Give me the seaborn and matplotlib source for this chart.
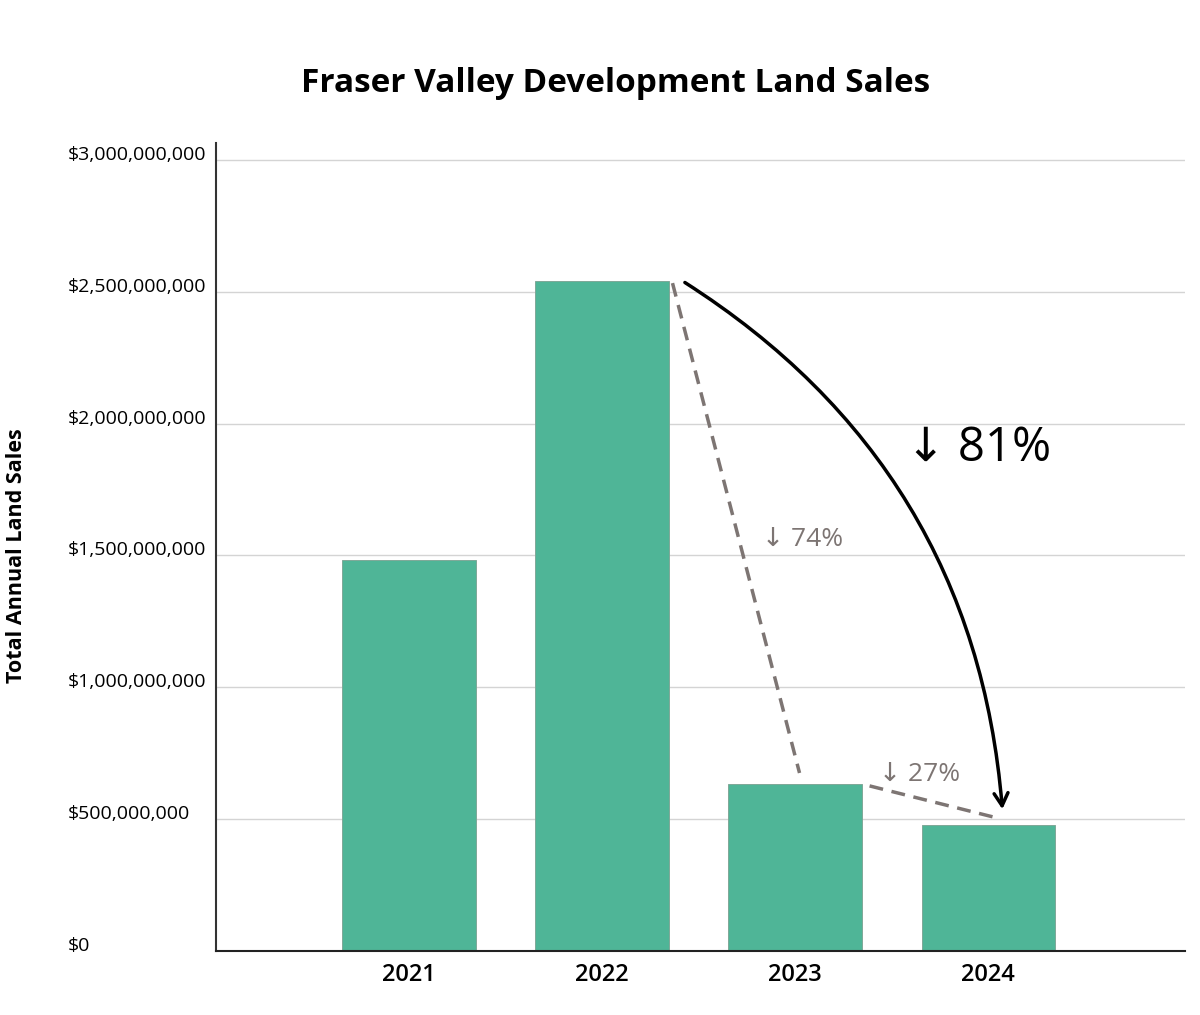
import matplotlib
matplotlib.use('Agg')
import matplotlib.pyplot as plt
import matplotlib.transforms as mtransforms
import seaborn as sns
import pandas as pd

years = ['2021', '2022', '2023', '2024']
sales = [1.483e9, 2.541e9, 0.633e9, 0.478e9]
ytick_vals = [0, 0.5e9, 1.0e9, 1.5e9, 2.0e9, 2.5e9, 3.0e9]
ytick_labels = ['$0', '$500,000,000', '$1,000,000,000', '$1,500,000,000',
                '$2,000,000,000', '$2,500,000,000', '$3,000,000,000']

sns.set_style('white')
plt.rcParams['font.family'] = ['Open Sans', 'DejaVu Sans']
plt.rcParams['text.color'] = 'black'
plt.rcParams['xtick.color'] = 'black'
plt.rcParams['ytick.color'] = 'black'

df = pd.DataFrame({'Year': years, 'Sales': sales})

fig = plt.figure(figsize=(12, 10.15), dpi=100)
ax = fig.add_axes([0.18, 0.0631, 0.8075, 0.7959])

sns.barplot(data=df, x='Year', y='Sales', color='#4fb597', saturation=1,
            width=0.69, edgecolor='#7fa898', linewidth=0.7, ax=ax)

ax.set_xlim(-1, 4.02)
ax.set_ylim(0, 3.064e9)
ax.set_yticks(ytick_vals)
ax.set_yticklabels(ytick_labels, fontsize=14, ha='left')
ax.yaxis.set_tick_params(length=0, pad=106.6)
offset = mtransforms.ScaledTranslation(0, 0.07, fig.dpi_scale_trans)
for lab in ax.get_yticklabels():
    lab.set_transform(lab.get_transform() + offset)
ax.tick_params(axis='x', length=0, pad=9, labelsize=17)
for lab in ax.get_xticklabels():
    lab.set_fontweight('semibold')

ax.grid(axis='y', color='#d4d4d4', linewidth=1)
ax.set_axisbelow(True)
sns.despine(ax=ax, top=True, right=True)
ax.spines['left'].set_color('#333333')
ax.spines['left'].set_linewidth(1.5)
ax.spines['bottom'].set_color('#222222')
ax.spines['bottom'].set_linewidth(1.5)
ax.set_xlabel('')
ax.set_ylabel('')

fig.text(0.513, 0.918, 'Fraser Valley Development Land Sales', ha='center',
         va='center', fontsize=24, fontweight='bold')
fig.text(0.014, 0.453, 'Total Annual Land Sales', rotation=90, ha='center',
         va='center', fontsize=15.5, fontweight='bold')

grey = '#7d7573'
ax.plot([1.365, 2.023], [2.533e9, 0.675e9], ls=(0, (4, 2.5)), color=grey, lw=2.5)
ax.plot([2.386, 3.049], [0.626e9, 0.504e9], ls=(0, (4, 2.5)), color=grey, lw=2.5)
ax.text(2.039, 1.562e9, '↓ 74%', color=grey, fontsize=19, ha='center', va='center')
ax.text(2.645, 0.671e9, '↓ 27%', color=grey, fontsize=19, ha='center', va='center')

ax.annotate('', xy=(3.075, 0.527e9), xytext=(1.417, 2.541e9),
            arrowprops=dict(arrowstyle='->,head_length=0.9,head_width=0.5',
                            color='black', lw=2.5,
                            connectionstyle='arc3,rad=-0.25'))
ax.text(2.951, 1.907e9, '↓ 81%', color='black', fontsize=34, ha='center', va='center')

fig.savefig('out.png', dpi=100, facecolor='white')
